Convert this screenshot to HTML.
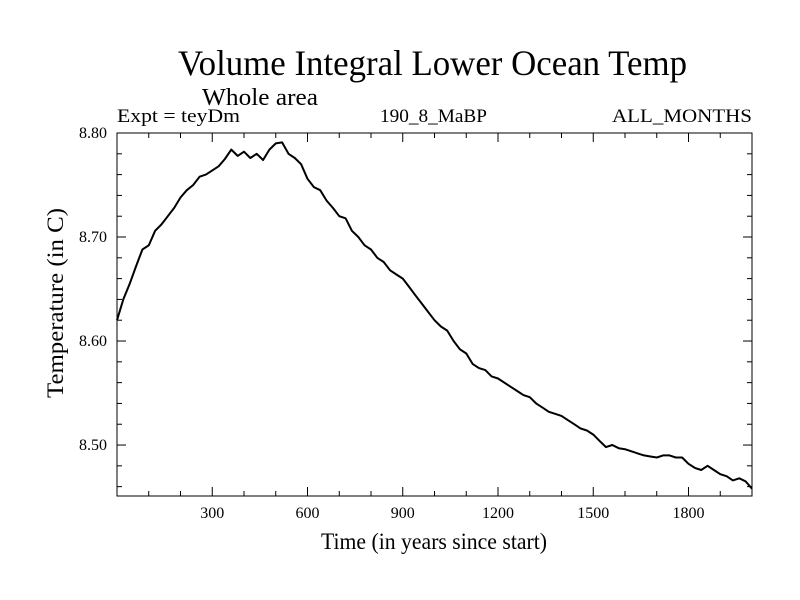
<!DOCTYPE html>
<html><head><meta charset="utf-8"><style>body{margin:0;background:#fff}svg{display:block}text{font-family:"Liberation Serif",serif;fill:#000}</style></head>
<body>
<svg id="chart" width="800" height="600">
<text x="178" y="75" font-size="36" textLength="509" lengthAdjust="spacingAndGlyphs">Volume Integral Lower Ocean Temp</text>
<text x="202" y="105" font-size="24" textLength="116" lengthAdjust="spacingAndGlyphs">Whole area</text>
<text x="117" y="122" font-size="19" textLength="123" lengthAdjust="spacingAndGlyphs">Expt = teyDm</text>
<text x="380" y="122" font-size="19" textLength="107" lengthAdjust="spacingAndGlyphs">190_8_MaBP</text>
<text x="612" y="122" font-size="19" textLength="140" lengthAdjust="spacingAndGlyphs">ALL_MONTHS</text>
<text x="434" y="549" font-size="23" text-anchor="middle" textLength="226" lengthAdjust="spacingAndGlyphs">Time (in years since start)</text>
<text transform="translate(63,303) rotate(-90)" font-size="23" text-anchor="middle" textLength="190" lengthAdjust="spacingAndGlyphs">Temperature (in C)</text>
<g id="axes"></g>
<path id="line" fill="none" stroke="#000" stroke-width="2" stroke-linejoin="round"></path>
<rect x="117" y="133" width="635" height="363" fill="none" stroke="#000" stroke-width="1"></rect>
</svg>
<script>
const years = [];
for (let i = 0; i <= 100; i++) years.push(i * 20);
const temps = [8.620,8.640,8.655,8.672,8.688,8.692,8.706,8.712,8.720,8.728,8.738,8.745,8.750,8.758,8.760,8.764,8.768,8.775,8.784,8.778,8.782,8.776,8.780,8.774,8.784,8.790,8.791,8.780,8.776,8.770,8.756,8.748,8.745,8.735,8.728,8.720,8.718,8.706,8.700,8.692,8.688,8.680,8.676,8.668,8.664,8.660,8.652,8.644,8.636,8.628,8.620,8.614,8.610,8.600,8.592,8.588,8.578,8.574,8.572,8.566,8.564,8.560,8.556,8.552,8.548,8.546,8.540,8.536,8.532,8.530,8.528,8.524,8.520,8.516,8.514,8.510,8.504,8.498,8.500,8.497,8.496,8.494,8.492,8.490,8.489,8.488,8.490,8.490,8.488,8.488,8.482,8.478,8.476,8.480,8.476,8.472,8.470,8.466,8.468,8.465,8.458];
const xTicks = [300,600,900,1200,1500,1800];
const yTicks = [8.50,8.60,8.70,8.80];
const X0=117,X1=752,Y0=133,Y1=496,xmin=0,xmax=2000,ymin=8.451,ymax=8.80;
const sx=v=>X0+(v-xmin)/(xmax-xmin)*(X1-X0);
const sy=v=>Y1-(v-ymin)/(ymax-ymin)*(Y1-Y0);
const NS='http://www.w3.org/2000/svg';
const g=document.getElementById('axes');
function ln(x1,y1,x2,y2,name){const l=document.createElementNS(NS,'line');l.setAttribute('x1',x1);l.setAttribute('y1',y1);l.setAttribute('x2',x2);l.setAttribute('y2',y2);l.setAttribute('stroke','#000');


g.appendChild(l);}
function tx(x,y,s,anchor,name){const t=document.createElementNS(NS,'text');t.setAttribute('x',x);t.setAttribute('y',y);t.setAttribute('font-size','16');t.setAttribute('text-anchor',anchor);t.textContent=s;


g.appendChild(t);}
for(let v=100;v<2000;v+=100){const x=sx(v);const major=v%300===0;const L=major?9:5;ln(x,Y1,x,Y1-L,'x-tick');ln(x,Y0,x,Y0+L,'x-tick');}
xTicks.forEach(v=>tx(sx(v),518,String(v),'middle','x-tick-label'));
for(let k=0;k<=17;k++){const v=8.46+k*0.02;if(v>ymax+1e-6)break;const y=sy(v);const major=Math.abs(Math.round(v*10)-v*10)<1e-6;const L=major?9:5;ln(X0,y,X0+L,y,'y-tick');ln(X1,y,X1-L,y,'y-tick');}
yTicks.forEach(v=>tx(107,sy(v)+5,v.toFixed(2),'end','y-tick-label'));
let d='';years.forEach((yr,i)=>{d+=(i?'L':'M')+sx(yr).toFixed(1)+','+sy(temps[i]).toFixed(1);});
document.getElementById('line').setAttribute('d',d);
</script>
</body></html>
